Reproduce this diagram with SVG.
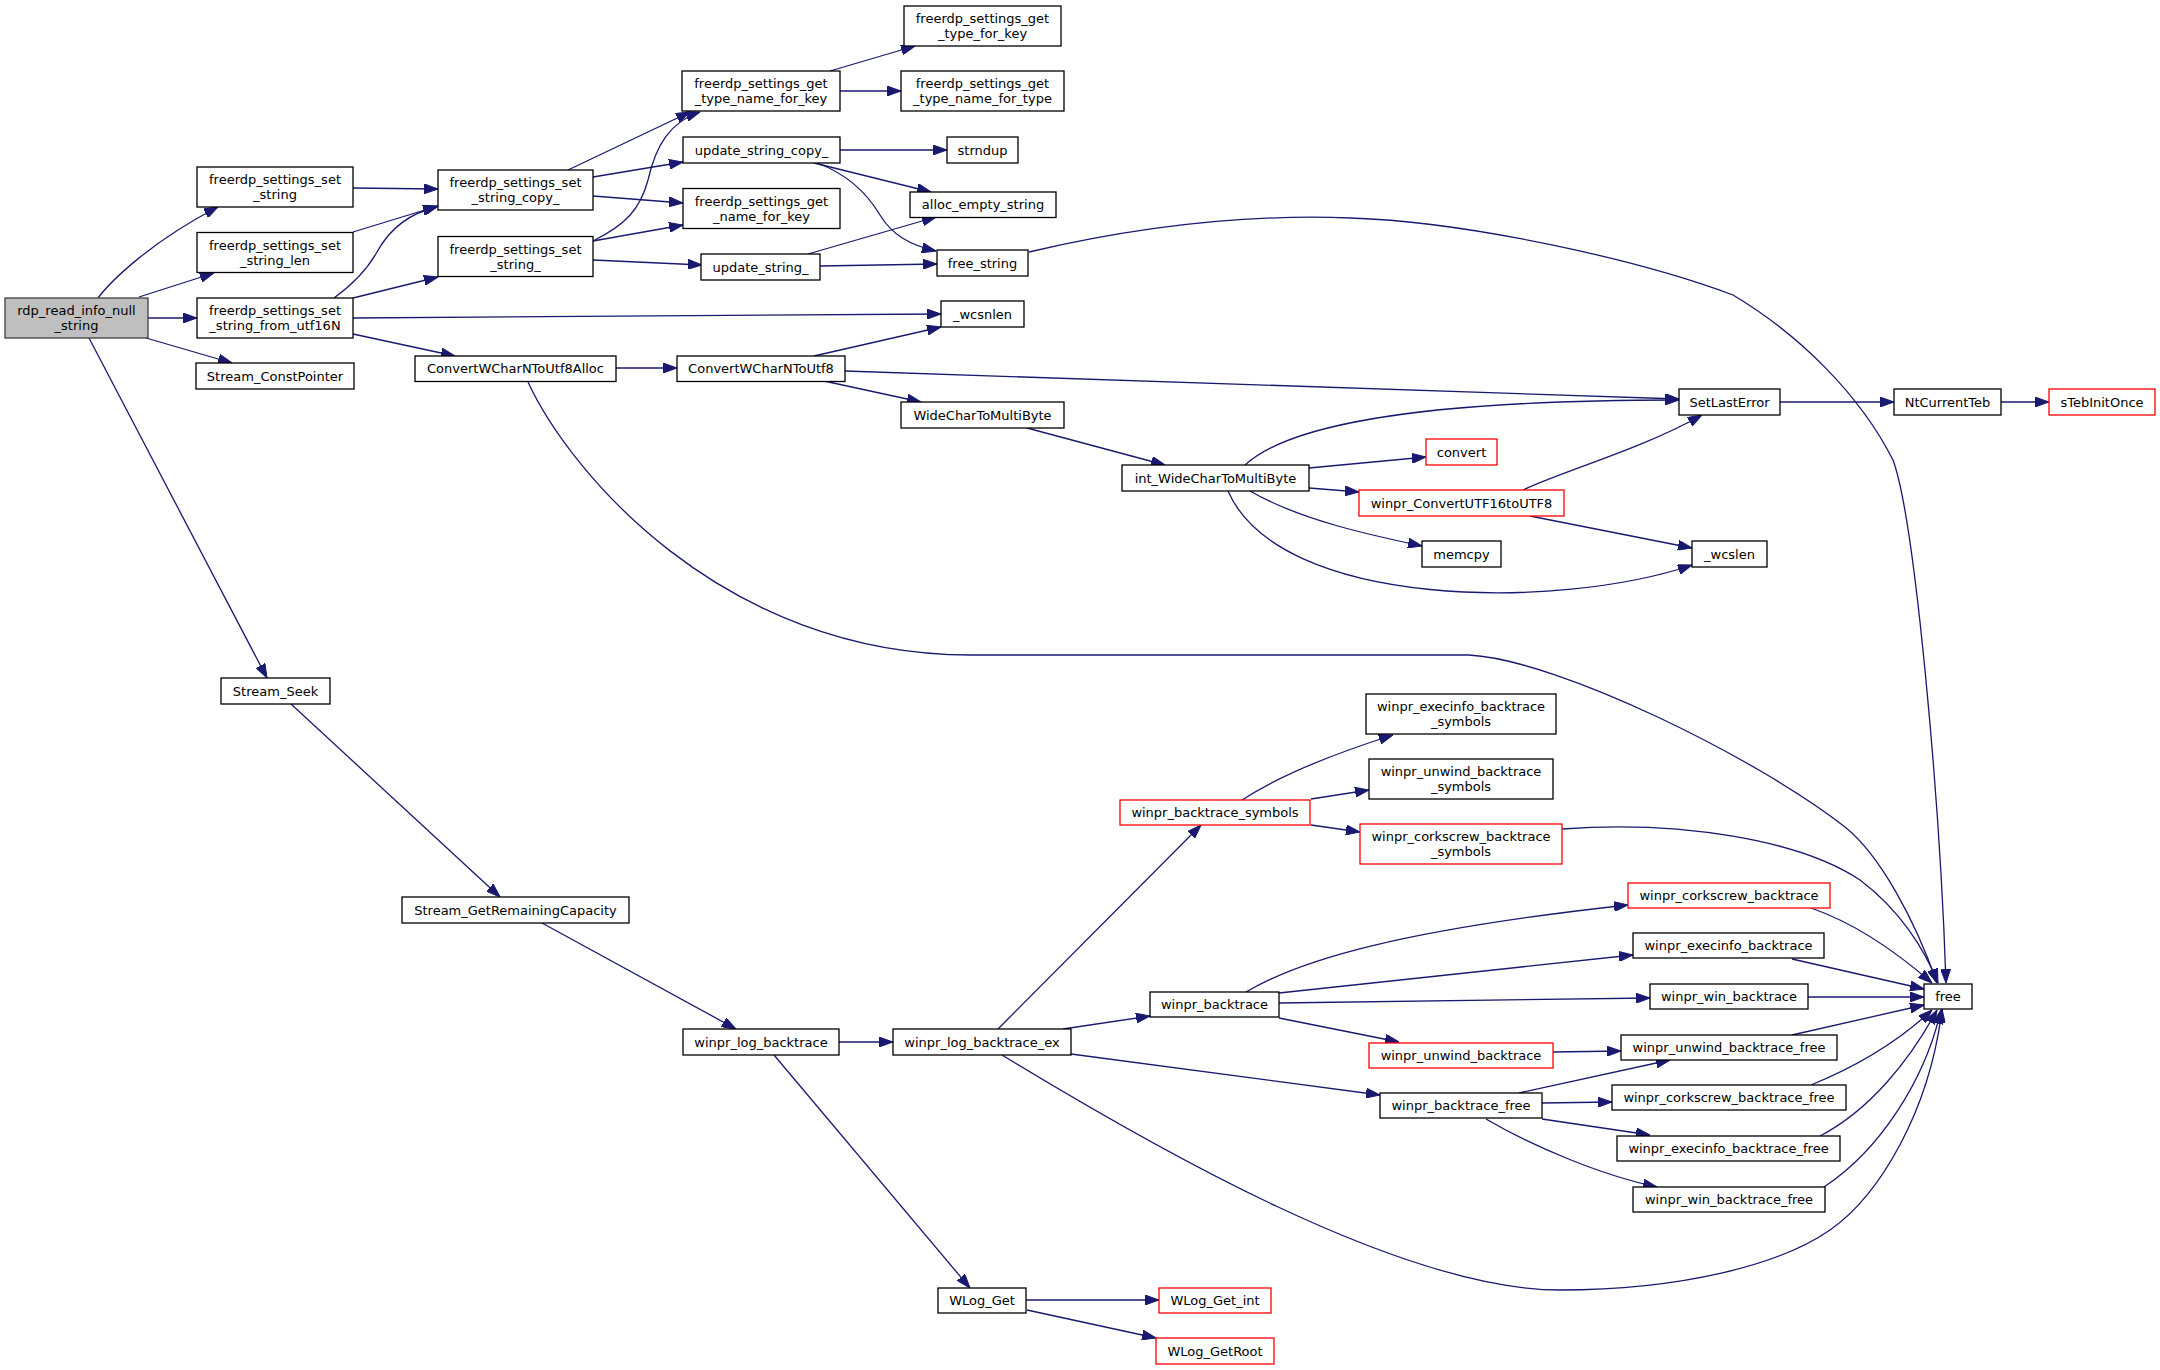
<svg xmlns="http://www.w3.org/2000/svg" width="2160" height="1370" viewBox="0 0 2160 1370">
<defs>
<style>
.n rect{fill:#fff;stroke:#000;stroke-width:1.3}
.n.r rect{stroke:#ff0000}
.n.g rect{fill:#bfbfbf;stroke:#404040}
.n text{font-family:"DejaVu Sans","Liberation Sans",sans-serif;font-size:13px;text-anchor:middle;fill:#000}
#edges path{fill:none;stroke:#191970;stroke-width:1.3;marker-end:url(#a)}
</style>
<marker id="a" markerWidth="14" markerHeight="10" refX="14" refY="5" orient="auto" markerUnits="userSpaceOnUse"><path d="M0,0 L14,5 L0,10 z" fill="#191970" stroke="#191970" stroke-width="1"/></marker>
</defs>
<rect width="2160" height="1370" fill="#fff"/>
<g id="edges">
<path d="M98,298 C110,282 150,242 218,207"/>
<path d="M139,297 L214,273"/>
<path d="M148,318 L197,318"/>
<path d="M146,338 L232,363"/>
<path d="M89,338 L267,678"/>
<path d="M353,188 L438,189"/>
<path d="M353,232 L438,206"/>
<path d="M334,298 C356,282 368,268 377,252 C388,232 405,214 437,207"/>
<path d="M353,298 L438,277"/>
<path d="M353,318 L941,314"/>
<path d="M353,334 L455,356"/>
<path d="M568,170 L690,112"/>
<path d="M593,177 L683,162"/>
<path d="M593,196 L683,203"/>
<path d="M593,241 C625,225 640,210 648,180 C656,145 670,122 700,112"/>
<path d="M593,241 L683,225"/>
<path d="M593,260 L702,265"/>
<path d="M830,71 L915,46"/>
<path d="M840,91 L901,91"/>
<path d="M840,150 L947,150"/>
<path d="M814,163 L931,192"/>
<path d="M817,163 C850,175 868,195 880,215 C892,235 910,245 936,251"/>
<path d="M808,254 L936,217"/>
<path d="M820,266 L937,264"/>
<path d="M1029,252 C1140,226 1250,214 1351,218 C1470,222 1640,260 1733,295 C1800,335 1860,395 1893,460 C1915,520 1940,800 1946,983"/>
<path d="M616,368 L677,368"/>
<path d="M528,382 C568,469 720,655 971,655 L1469,655 C1560,660 1760,760 1845,827 C1880,855 1915,920 1937,983"/>
<path d="M814,356 L941,327"/>
<path d="M845,371 L1679,399"/>
<path d="M824,381 L921,402"/>
<path d="M1027,428 L1165,465"/>
<path d="M1245,465 C1285,428 1400,400 1679,400"/>
<path d="M1309,468 L1426,457"/>
<path d="M1309,488 L1359,492"/>
<path d="M1250,491 C1300,520 1370,535 1422,546"/>
<path d="M1228,491 C1280,610 1560,610 1692,565"/>
<path d="M1523,490 C1565,470 1640,450 1702,415"/>
<path d="M1530,516 L1692,548"/>
<path d="M1780,402 L1894,402"/>
<path d="M2001,402 L2049,402"/>
<path d="M291,704 L500,897"/>
<path d="M542,923 L736,1029"/>
<path d="M839,1042 L893,1042"/>
<path d="M774,1055 L970,1288"/>
<path d="M998,1029 L1201,825"/>
<path d="M1063,1029 L1150,1016"/>
<path d="M1071,1054 L1380,1095"/>
<path d="M1002,1055 C1150,1145 1400,1290 1560,1290 C1680,1290 1780,1265 1830,1230 C1880,1195 1930,1110 1942,1009"/>
<path d="M1242,800 C1280,775 1330,755 1393,735"/>
<path d="M1311,799 L1369,790"/>
<path d="M1311,825 L1360,832"/>
<path d="M1562,829 C1680,820 1800,840 1860,880 C1900,910 1925,950 1938,983"/>
<path d="M1246,992 C1300,960 1400,930 1628,905"/>
<path d="M1279,993 L1633,955"/>
<path d="M1279,1003 L1650,998"/>
<path d="M1279,1018 L1399,1042"/>
<path d="M1811,908 C1860,925 1900,955 1932,983"/>
<path d="M1792,959 L1924,989"/>
<path d="M1808,997 L1924,997"/>
<path d="M1553,1052 L1621,1051"/>
<path d="M1792,1035 L1924,1005"/>
<path d="M1519,1093 L1670,1060"/>
<path d="M1542,1103 L1612,1102"/>
<path d="M1542,1119 L1650,1135"/>
<path d="M1486,1119 C1530,1145 1600,1175 1657,1187"/>
<path d="M1811,1085 C1860,1065 1900,1040 1932,1010"/>
<path d="M1820,1136 C1870,1110 1910,1060 1937,1010"/>
<path d="M1824,1187 C1880,1150 1925,1080 1941,1010"/>
<path d="M1026,1300 L1159,1300"/>
<path d="M1027,1310 L1156,1338"/>
</g>
<g id="rdp_read_info_null_string" class="n g"><rect x="5" y="298" width="143" height="40"/><text x="76.5" y="315">rdp_read_info_null</text><text x="76.5" y="330">_string</text></g>
<g id="freerdp_settings_set_string" class="n"><rect x="197" y="167" width="156" height="40"/><text x="275" y="184">freerdp_settings_set</text><text x="275" y="199">_string</text></g>
<g id="freerdp_settings_set_string_len" class="n"><rect x="197" y="232.5" width="156" height="40"/><text x="275" y="249.5">freerdp_settings_set</text><text x="275" y="264.5">_string_len</text></g>
<g id="freerdp_settings_set_string_from_utf16N" class="n"><rect x="197" y="298" width="156" height="40"/><text x="275" y="315">freerdp_settings_set</text><text x="275" y="330">_string_from_utf16N</text></g>
<g id="Stream_ConstPointer" class="n"><rect x="196" y="363" width="158" height="26"/><text x="275" y="380.5">Stream_ConstPointer</text></g>
<g id="freerdp_settings_set_string_copy_" class="n"><rect x="438" y="170" width="155" height="40"/><text x="515.5" y="187">freerdp_settings_set</text><text x="515.5" y="202">_string_copy_</text></g>
<g id="freerdp_settings_set_string_" class="n"><rect x="438" y="236.5" width="155" height="40"/><text x="515.5" y="253.5">freerdp_settings_set</text><text x="515.5" y="268.5">_string_</text></g>
<g id="ConvertWCharNToUtf8Alloc" class="n"><rect x="415" y="356" width="201" height="25.5"/><text x="515.5" y="373.25">ConvertWCharNToUtf8Alloc</text></g>
<g id="freerdp_settings_get_type_for_key" class="n"><rect x="904" y="6" width="157" height="40"/><text x="982.5" y="23">freerdp_settings_get</text><text x="982.5" y="38">_type_for_key</text></g>
<g id="freerdp_settings_get_type_name_for_key" class="n"><rect x="682" y="71" width="158" height="40"/><text x="761" y="88">freerdp_settings_get</text><text x="761" y="103">_type_name_for_key</text></g>
<g id="freerdp_settings_get_type_name_for_type" class="n"><rect x="901" y="71" width="163" height="40"/><text x="982.5" y="88">freerdp_settings_get</text><text x="982.5" y="103">_type_name_for_type</text></g>
<g id="update_string_copy_" class="n"><rect x="683" y="137" width="157" height="26"/><text x="761.5" y="154.5">update_string_copy_</text></g>
<g id="strndup" class="n"><rect x="947" y="137" width="71" height="26"/><text x="982.5" y="154.5">strndup</text></g>
<g id="freerdp_settings_get_name_for_key" class="n"><rect x="683" y="188.5" width="157" height="40"/><text x="761.5" y="205.5">freerdp_settings_get</text><text x="761.5" y="220.5">_name_for_key</text></g>
<g id="alloc_empty_string" class="n"><rect x="910" y="192" width="146" height="25.5"/><text x="983" y="209.25">alloc_empty_string</text></g>
<g id="update_string_" class="n"><rect x="701" y="254" width="119" height="26"/><text x="760.5" y="271.5">update_string_</text></g>
<g id="free_string" class="n"><rect x="937" y="250" width="91" height="26"/><text x="982.5" y="267.5">free_string</text></g>
<g id="_wcsnlen" class="n"><rect x="941" y="301" width="83" height="26"/><text x="982.5" y="318.5">_wcsnlen</text></g>
<g id="ConvertWCharNToUtf8" class="n"><rect x="677" y="356" width="168" height="25.5"/><text x="761" y="373.25">ConvertWCharNToUtf8</text></g>
<g id="WideCharToMultiByte" class="n"><rect x="901" y="402" width="163" height="26"/><text x="982.5" y="419.5">WideCharToMultiByte</text></g>
<g id="SetLastError" class="n"><rect x="1679" y="389" width="101" height="26"/><text x="1729.5" y="406.5">SetLastError</text></g>
<g id="NtCurrentTeb" class="n"><rect x="1894" y="389" width="107" height="26"/><text x="1947.5" y="406.5">NtCurrentTeb</text></g>
<g id="sTebInitOnce" class="n r"><rect x="2049" y="389" width="106" height="26"/><text x="2102" y="406.5">sTebInitOnce</text></g>
<g id="int_WideCharToMultiByte" class="n"><rect x="1122" y="465" width="187" height="26"/><text x="1215.5" y="482.5">int_WideCharToMultiByte</text></g>
<g id="convert" class="n r"><rect x="1426" y="439" width="71" height="26"/><text x="1461.5" y="456.5">convert</text></g>
<g id="winpr_ConvertUTF16toUTF8" class="n r"><rect x="1359" y="490" width="205" height="26"/><text x="1461.5" y="507.5">winpr_ConvertUTF16toUTF8</text></g>
<g id="memcpy" class="n"><rect x="1422" y="541" width="79" height="26"/><text x="1461.5" y="558.5">memcpy</text></g>
<g id="_wcslen" class="n"><rect x="1692" y="541" width="75" height="26"/><text x="1729.5" y="558.5">_wcslen</text></g>
<g id="Stream_Seek" class="n"><rect x="221" y="678" width="109" height="26"/><text x="275.5" y="695.5">Stream_Seek</text></g>
<g id="Stream_GetRemainingCapacity" class="n"><rect x="402" y="897" width="227" height="26"/><text x="515.5" y="914.5">Stream_GetRemainingCapacity</text></g>
<g id="winpr_log_backtrace" class="n"><rect x="683" y="1029" width="156" height="26"/><text x="761" y="1046.5">winpr_log_backtrace</text></g>
<g id="winpr_log_backtrace_ex" class="n"><rect x="893" y="1029" width="178" height="26"/><text x="982" y="1046.5">winpr_log_backtrace_ex</text></g>
<g id="WLog_Get" class="n"><rect x="938" y="1288" width="88" height="25"/><text x="982" y="1305">WLog_Get</text></g>
<g id="WLog_Get_int" class="n r"><rect x="1159" y="1288" width="112" height="25"/><text x="1215" y="1305">WLog_Get_int</text></g>
<g id="WLog_GetRoot" class="n r"><rect x="1156" y="1338" width="118" height="26"/><text x="1215" y="1355.5">WLog_GetRoot</text></g>
<g id="winpr_backtrace" class="n"><rect x="1150" y="992" width="129" height="25"/><text x="1214.5" y="1009">winpr_backtrace</text></g>
<g id="winpr_backtrace_symbols" class="n r"><rect x="1120" y="800" width="190" height="25"/><text x="1215" y="817">winpr_backtrace_symbols</text></g>
<g id="winpr_execinfo_backtrace_symbols" class="n"><rect x="1366" y="694" width="190" height="40"/><text x="1461" y="711">winpr_execinfo_backtrace</text><text x="1461" y="726">_symbols</text></g>
<g id="winpr_unwind_backtrace_symbols" class="n"><rect x="1369" y="759" width="184" height="40"/><text x="1461" y="776">winpr_unwind_backtrace</text><text x="1461" y="791">_symbols</text></g>
<g id="winpr_corkscrew_backtrace_symbols" class="n r"><rect x="1360" y="824" width="202" height="40"/><text x="1461" y="841">winpr_corkscrew_backtrace</text><text x="1461" y="856">_symbols</text></g>
<g id="winpr_corkscrew_backtrace" class="n r"><rect x="1628" y="883" width="202" height="25"/><text x="1729" y="900">winpr_corkscrew_backtrace</text></g>
<g id="winpr_execinfo_backtrace" class="n"><rect x="1633" y="933" width="191" height="25"/><text x="1728.5" y="950">winpr_execinfo_backtrace</text></g>
<g id="winpr_win_backtrace" class="n"><rect x="1650" y="984" width="158" height="25"/><text x="1729" y="1001">winpr_win_backtrace</text></g>
<g id="free" class="n"><rect x="1924" y="984" width="48" height="25"/><text x="1948" y="1001">free</text></g>
<g id="winpr_unwind_backtrace" class="n r"><rect x="1369" y="1043" width="184" height="25"/><text x="1461" y="1060">winpr_unwind_backtrace</text></g>
<g id="winpr_unwind_backtrace_free" class="n"><rect x="1621" y="1035" width="216" height="25"/><text x="1729" y="1052">winpr_unwind_backtrace_free</text></g>
<g id="winpr_backtrace_free" class="n"><rect x="1380" y="1093" width="162" height="25"/><text x="1461" y="1110">winpr_backtrace_free</text></g>
<g id="winpr_corkscrew_backtrace_free" class="n"><rect x="1612" y="1085" width="234" height="25"/><text x="1729" y="1102">winpr_corkscrew_backtrace_free</text></g>
<g id="winpr_execinfo_backtrace_free" class="n"><rect x="1617" y="1136" width="223" height="25"/><text x="1728.5" y="1153">winpr_execinfo_backtrace_free</text></g>
<g id="winpr_win_backtrace_free" class="n"><rect x="1633" y="1187" width="192" height="25"/><text x="1729" y="1204">winpr_win_backtrace_free</text></g>
</svg>
